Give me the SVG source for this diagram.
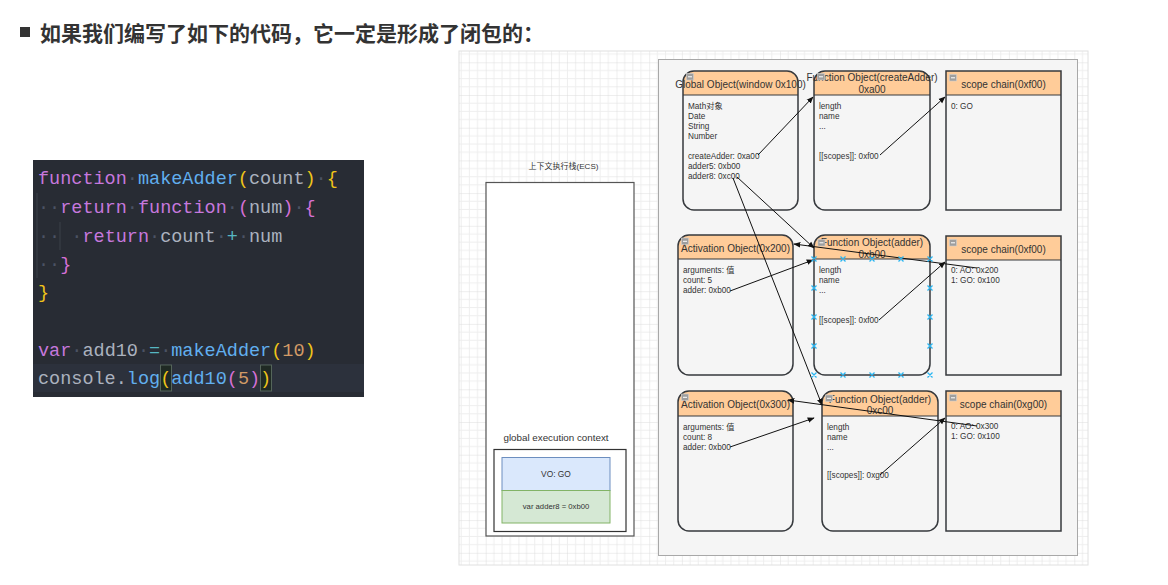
<svg xmlns="http://www.w3.org/2000/svg" width="1168" height="585" viewBox="0 0 1168 585">
<style>
.code{font-family:"Liberation Mono","DejaVu Sans Mono",monospace;font-size:18.5px;fill:#abb2bf}
.kw{fill:#c678dd}.fn{fill:#61afef}.b1{fill:#f0c419}.b2{fill:#d670d6}.op{fill:#56b6c2}.num{fill:#d19a66}.ws{fill:#4b5263}
.t{font-family:"Liberation Sans",Arial,"Noto Sans CJK SC",sans-serif;fill:#333}
.ttl{font-size:10px;text-anchor:middle}
.bd{font-size:8.2px}
.body{fill:#f5f5f5;stroke:none}
.hdr{fill:#ffcc99;stroke:none}
.out{fill:none;stroke:#36393d;stroke-width:1.5}
.icon{fill:#9e9e9e;stroke:#d0d0d0;stroke-width:0.6}
.conn line{stroke:#111;stroke-width:1;marker-end:url(#ah)}
.sel path{stroke:#29b6f2;stroke-width:1.3;fill:none}
</style>
<defs>
<pattern id="grid" patternUnits="userSpaceOnUse" x="485.7" y="95" width="32.7" height="32.7">
<path d="M8.17 0V32.7M16.35 0V32.7M24.52 0V32.7M0 8.17H32.7M0 16.35H32.7M0 24.52H32.7" stroke="#eeeeee" stroke-width="1"/>
<path d="M0 0V32.7M0 0H32.7" stroke="#dddddd" stroke-width="1"/>
</pattern>
<marker id="ah" viewBox="0 0 10 10" refX="9" refY="5" markerWidth="7" markerHeight="7" orient="auto" markerUnits="userSpaceOnUse">
<path d="M0 1L10 5L0 9Z" fill="#111"/>
</marker>
</defs>
<rect width="1168" height="585" fill="#fff"/>
<!-- heading -->
<g id="heading">
<rect x="20" y="27" width="10" height="10" fill="#333"/>
<text x="40" y="41" font-family="'Noto Sans CJK SC','Noto Sans',sans-serif" font-size="21" font-weight="bold" fill="#333">如果我们编写了如下的代码，它一定是形成了闭包的：</text>
</g>
<!-- code -->
<g id="code">
<rect x="33" y="160" width="331" height="237" fill="#282c34"/>
<rect x="33" y="364" width="331" height="28" fill="#2c313c"/>
<rect x="160.5" y="365" width="11" height="26" fill="#1f2a24" stroke="#55655a" stroke-width="1"/>
<rect x="260.5" y="365" width="11" height="26" fill="#1f2a24" stroke="#55655a" stroke-width="1"/>
<line x1="37" y1="193" x2="37" y2="278" stroke="#3b4048" stroke-width="1"/>
<line x1="60" y1="222" x2="60" y2="250" stroke="#3b4048" stroke-width="1"/>
<text class="code" x="38" y="184" xml:space="preserve"><tspan class="kw">function</tspan><tspan class="ws">·</tspan><tspan class="fn">makeAdder</tspan><tspan class="b1">(</tspan>count<tspan class="b1">)</tspan><tspan class="ws">·</tspan><tspan class="b1">{</tspan></text>
<text class="code" x="38" y="213" xml:space="preserve"><tspan class="ws">··</tspan><tspan class="kw">return</tspan><tspan class="ws">·</tspan><tspan class="kw">function</tspan><tspan class="ws">·</tspan><tspan class="b2">(</tspan>num<tspan class="b2">)</tspan><tspan class="ws">·</tspan><tspan class="b2">{</tspan></text>
<text class="code" x="38" y="242" xml:space="preserve"><tspan class="ws">·· ·</tspan><tspan class="kw">return</tspan><tspan class="ws">·</tspan>count<tspan class="ws">·</tspan><tspan class="op">+</tspan><tspan class="ws">·</tspan>num</text>
<text class="code" x="38" y="270" xml:space="preserve"><tspan class="ws">··</tspan><tspan class="b2">}</tspan></text>
<text class="code" x="38" y="298" xml:space="preserve"><tspan class="b1">}</tspan></text>
<text class="code" x="38" y="356" xml:space="preserve"><tspan class="kw">var</tspan><tspan class="ws">·</tspan>add10<tspan class="ws">·</tspan><tspan class="op">=</tspan><tspan class="ws">·</tspan><tspan class="fn">makeAdder</tspan><tspan class="b1">(</tspan><tspan class="num">10</tspan><tspan class="b1">)</tspan></text>
<text class="code" x="38" y="384" xml:space="preserve">console.<tspan class="fn">log</tspan><tspan class="b1">(</tspan><tspan class="fn">add10</tspan><tspan class="b2">(</tspan><tspan class="num">5</tspan><tspan class="b2">)</tspan><tspan class="b1">)</tspan></text>
</g>
<!-- canvas -->
<rect x="459" y="51" width="629" height="514" fill="url(#grid)" stroke="#e0e0e0" stroke-width="1"/>
<rect id="container" x="658.5" y="59.5" width="419" height="496" fill="#f5f5f5" stroke="#a8a8a8" stroke-width="1"/>
<!-- ECS -->
<g id="ecs">
<text class="t" x="563.5" y="169" font-size="8" text-anchor="middle">上下文执行栈(ECS)</text>
<rect x="486" y="182.5" width="148" height="353.5" fill="#fff" stroke="#555" stroke-width="1.2"/>
</g>
<g id="gec">
<text class="t" x="556" y="440.5" font-size="9.8" text-anchor="middle">global execution context</text>
<rect x="494" y="449.5" width="132" height="82" fill="#fff" stroke="#333" stroke-width="1.2"/>
</g>
<g id="vo">
<rect x="502" y="457.5" width="108" height="33" fill="#dae8fc" stroke="#6c8ebf" stroke-width="1"/>
<text class="t" x="556" y="477" font-size="8.4" text-anchor="middle">VO: GO</text>
</g>
<g id="var">
<rect x="502" y="490.5" width="108" height="32.5" fill="#d5e8d4" stroke="#82b366" stroke-width="1"/>
<text class="t" x="556" y="509" font-size="7.7" text-anchor="middle">var adder8 = 0xb00</text>
</g>
<!-- Global Object -->
<g id="go">
<rect class="body" x="683" y="71" width="115" height="139" rx="11"/>
<path class="hdr" d="M683 95V82A11 11 0 0 1 694 71H787A11 11 0 0 1 798 82V95Z"/>
<line x1="683" y1="95" x2="798" y2="95" stroke="#36393d" stroke-width="1.2"/>
<rect class="out" x="683" y="71" width="115" height="139" rx="11"/>
<text class="t ttl" x="740.5" y="87.5">Global Object(window 0x100)</text>
<rect class="icon" x="686.5" y="73.5" width="7" height="6.5"/><line x1="688" y1="76.8" x2="692" y2="76.8" stroke="#fff" stroke-width="1"/>
<text class="t bd" x="688" y="109">Math对象</text>
<text class="t bd" x="688" y="119">Date</text>
<text class="t bd" x="688" y="129">String</text>
<text class="t bd" x="688" y="139">Number</text>
<text class="t bd" x="688" y="159">createAdder: 0xa00</text>
<text class="t bd" x="688" y="169">adder5: 0xb00</text>
<text class="t bd" x="688" y="179">adder8: 0xc00</text>
</g>
<!-- Function Object createAdder -->
<g id="fo-createAdder">
<rect class="body" x="814" y="71" width="116" height="139" rx="11"/>
<path class="hdr" d="M814 95V82A11 11 0 0 1 825 71H919A11 11 0 0 1 930 82V95Z"/>
<line x1="814" y1="95" x2="930" y2="95" stroke="#36393d" stroke-width="1.2"/>
<rect class="out" x="814" y="71" width="116" height="139" rx="11"/>
<text class="t ttl" x="872" y="80.5">Function Object(createAdder)</text>
<text class="t ttl" x="872" y="92.5">0xa00</text>
<rect class="icon" x="817.5" y="73.5" width="7" height="6.5"/><line x1="819" y1="76.8" x2="823" y2="76.8" stroke="#fff" stroke-width="1"/>
<text class="t bd" x="819" y="109">length</text>
<text class="t bd" x="819" y="119">name</text>
<text class="t bd" x="819" y="129">...</text>
<text class="t bd" x="819" y="159">[[scopes]]: 0xf00</text>
</g>
<!-- scope chain 0xf00 -->
<g id="sc-1">
<rect class="body" x="946" y="71" width="115" height="139"/>
<rect class="hdr" x="946" y="71" width="115" height="24"/>
<line x1="946" y1="95" x2="1061" y2="95" stroke="#36393d" stroke-width="1.2"/>
<rect class="out" x="946" y="71" width="115" height="139"/>
<text class="t ttl" x="1003.5" y="88">scope chain(0xf00)</text>
<rect class="icon" x="949.5" y="74.5" width="7" height="6.5"/><line x1="951" y1="77.8" x2="955" y2="77.8" stroke="#fff" stroke-width="1"/>
<text class="t bd" x="951" y="109">0: GO</text>
</g>
<!-- Activation Object 0x200 -->
<g id="ao-200">
<rect class="body" x="678" y="235" width="115" height="140" rx="11"/>
<path class="hdr" d="M678 259V246A11 11 0 0 1 689 235H782A11 11 0 0 1 793 246V259Z"/>
<line x1="678" y1="259" x2="793" y2="259" stroke="#36393d" stroke-width="1.2"/>
<rect class="out" x="678" y="235" width="115" height="140" rx="11"/>
<text class="t ttl" x="735.5" y="252">Activation Object(0x200)</text>
<rect class="icon" x="681.5" y="238" width="7" height="6.5"/><line x1="683" y1="241.3" x2="687" y2="241.3" stroke="#fff" stroke-width="1"/>
<text class="t bd" x="683" y="273">arguments: 值</text>
<text class="t bd" x="683" y="283">count: 5</text>
<text class="t bd" x="683" y="293">adder: 0xb00</text>
</g>
<!-- Function Object adder 0xb00 -->
<g id="fo-adder-b00">
<rect class="body" x="814" y="235" width="116" height="140" rx="11"/>
<path class="hdr" d="M814 259V246A11 11 0 0 1 825 235H919A11 11 0 0 1 930 246V259Z"/>
<line x1="814" y1="259" x2="930" y2="259" stroke="#36393d" stroke-width="1.2"/>
<rect class="out" x="814" y="235" width="116" height="140" rx="11"/>
<text class="t ttl" x="872" y="245.5">Function Object(adder)</text>
<text class="t ttl" x="872" y="257.5">0xb00</text>
<rect class="icon" x="818" y="239.5" width="7" height="6.5"/><line x1="819.5" y1="242.8" x2="823.5" y2="242.8" stroke="#fff" stroke-width="1"/>
<text class="t bd" x="819" y="273">length</text>
<text class="t bd" x="819" y="283">name</text>
<text class="t bd" x="819" y="293">...</text>
<text class="t bd" x="819" y="323">[[scopes]]: 0xf00</text>
</g>
<!-- scope chain 0xf00 row 2 -->
<g id="sc-2">
<rect class="body" x="946" y="236" width="115" height="139"/>
<rect class="hdr" x="946" y="236" width="115" height="24"/>
<line x1="946" y1="260" x2="1061" y2="260" stroke="#36393d" stroke-width="1.2"/>
<rect class="out" x="946" y="236" width="115" height="139"/>
<text class="t ttl" x="1003.5" y="252.5">scope chain(0xf00)</text>
<rect class="icon" x="949.5" y="239.5" width="7" height="6.5"/><line x1="951" y1="242.8" x2="955" y2="242.8" stroke="#fff" stroke-width="1"/>
<text class="t bd" x="951" y="273">0: AO: 0x200</text>
<text class="t bd" x="951" y="283">1: GO: 0x100</text>
</g>
<!-- Activation Object 0x300 -->
<g id="ao-300">
<rect class="body" x="678" y="391" width="115" height="140" rx="11"/>
<path class="hdr" d="M678 416V402A11 11 0 0 1 689 391H782A11 11 0 0 1 793 402V416Z"/>
<line x1="678" y1="416" x2="793" y2="416" stroke="#36393d" stroke-width="1.2"/>
<rect class="out" x="678" y="391" width="115" height="140" rx="11"/>
<text class="t ttl" x="735.5" y="408">Activation Object(0x300)</text>
<rect class="icon" x="681.5" y="394" width="7" height="6.5"/><line x1="683" y1="397.3" x2="687" y2="397.3" stroke="#fff" stroke-width="1"/>
<text class="t bd" x="683" y="430">arguments: 值</text>
<text class="t bd" x="683" y="440">count: 8</text>
<text class="t bd" x="683" y="450">adder: 0xb00</text>
</g>
<!-- Function Object adder 0xc00 -->
<g id="fo-adder-c00">
<rect class="body" x="822" y="391" width="116" height="140" rx="11"/>
<path class="hdr" d="M822 416V402A11 11 0 0 1 833 391H927A11 11 0 0 1 938 402V416Z"/>
<line x1="822" y1="416" x2="938" y2="416" stroke="#36393d" stroke-width="1.2"/>
<rect class="out" x="822" y="391" width="116" height="140" rx="11"/>
<text class="t ttl" x="880" y="402.5">Function Object(adder)</text>
<text class="t ttl" x="880" y="413.5">0xc00</text>
<rect class="icon" x="825.5" y="395" width="7" height="6.5"/><line x1="827" y1="398.3" x2="831" y2="398.3" stroke="#fff" stroke-width="1"/>
<text class="t bd" x="827" y="430">length</text>
<text class="t bd" x="827" y="440">name</text>
<text class="t bd" x="827" y="450">...</text>
<text class="t bd" x="827" y="478">[[scopes]]: 0xg00</text>
</g>
<!-- scope chain 0xg00 -->
<g id="sc-3">
<rect class="body" x="946" y="391" width="115" height="140"/>
<rect class="hdr" x="946" y="391" width="115" height="25"/>
<line x1="946" y1="416" x2="1061" y2="416" stroke="#36393d" stroke-width="1.2"/>
<rect class="out" x="946" y="391" width="115" height="140"/>
<text class="t ttl" x="1003.5" y="408">scope chain(0xg00)</text>
<rect class="icon" x="949.5" y="394.5" width="7" height="6.5"/><line x1="951" y1="397.8" x2="955" y2="397.8" stroke="#fff" stroke-width="1"/>
<text class="t bd" x="951" y="429">0: AO: 0x300</text>
<text class="t bd" x="951" y="439">1: GO: 0x100</text>
</g>
<!-- connectors -->
<g id="connectors" class="conn">
<line x1="758" y1="155" x2="813" y2="97"/>
<line x1="880" y1="155" x2="945" y2="97"/>
<line x1="733" y1="178" x2="822" y2="405"/>
<line x1="737" y1="177" x2="814" y2="248"/>
<line x1="977" y1="268" x2="794" y2="244"/>
<line x1="730" y1="291" x2="813" y2="260"/>
<line x1="879" y1="320" x2="945" y2="262"/>
<line x1="977" y1="426" x2="788" y2="400"/>
<line x1="730" y1="447" x2="814" y2="418"/>
<line x1="880" y1="475" x2="945" y2="418"/>
</g>
<!-- selection handles -->
<g id="selection" class="sel">
<path d="M811.5 256.5l5 5m0-5l-5 5M840.5 256.5l5 5m0-5l-5 5M869.5 256.5l5 5m0-5l-5 5M898.5 256.5l5 5m0-5l-5 5M927.5 256.5l5 5m0-5l-5 5"/>
<path d="M811.5 372.5l5 5m0-5l-5 5M840.5 372.5l5 5m0-5l-5 5M869.5 372.5l5 5m0-5l-5 5M898.5 372.5l5 5m0-5l-5 5M927.5 372.5l5 5m0-5l-5 5"/>
<path d="M811.5 285.5l5 5m0-5l-5 5M811.5 314.5l5 5m0-5l-5 5M811.5 343.5l5 5m0-5l-5 5M927.5 285.5l5 5m0-5l-5 5M927.5 314.5l5 5m0-5l-5 5M927.5 343.5l5 5m0-5l-5 5"/>
</g>
</svg>
